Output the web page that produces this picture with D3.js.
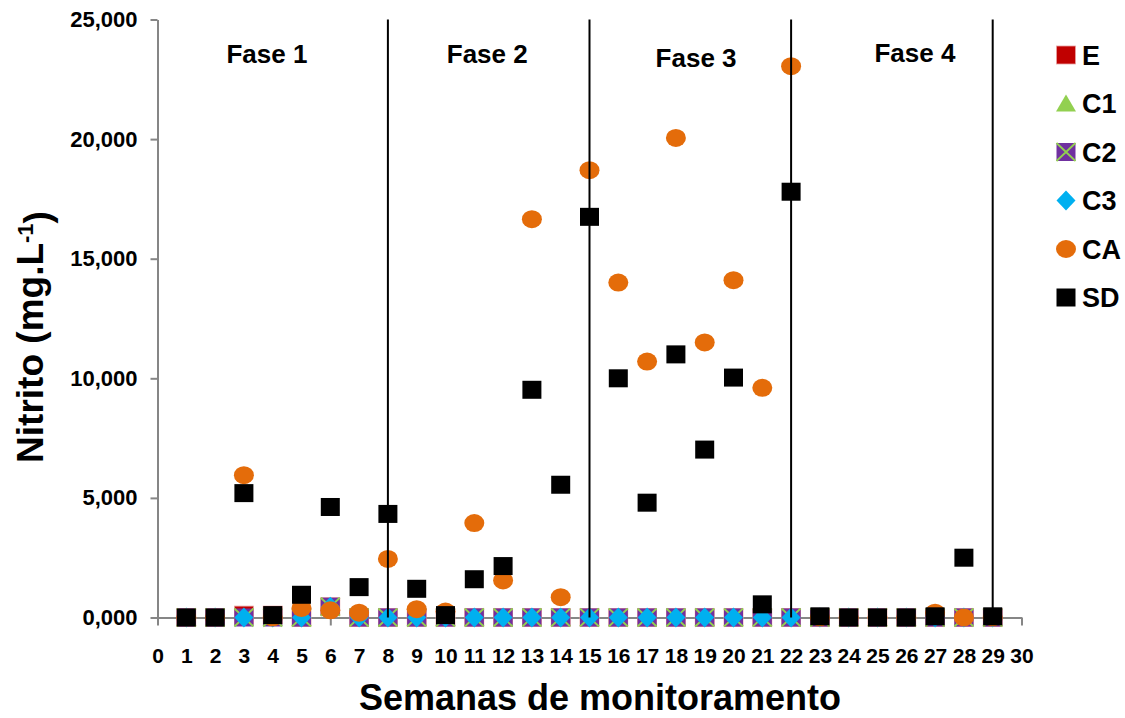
<!DOCTYPE html>
<html>
<head>
<meta charset="utf-8">
<script src="https://cdn.jsdelivr.net/npm/d3@7"></script>
<style>
  body { margin: 0; background: #fff; }
  svg { display: block; font-family: "Liberation Sans", Arial, sans-serif; font-weight: bold; }
</style>
</head>
<body>
<svg id="chart"></svg>
<script>
// semanas de monitoramento
const weeks = [1,2,3,4,5,6,7,8,9,10,11,12,13,14,15,16,17,18,19,20,21,22,23,24,25,26,27,28,29];

// nitrito (mg/L) por tratamento
const E  = [0,0,0.1,0.1,0,0.45,0,0,0,0,0,0,0,0,0,0,0,0,0,0,0,0,0,0,0,0,0,0,0];
const C1 = [0,0,0,0,0,0.45,0,0,0,0,0,0,0,0,0,0,0,0,0,0,0,0,0,0,0,0,0,0,0];
const C2 = [0,0,0,0,0,0.45,0,0,0,0,0,0,0,0,0,0,0,0,0,0,0,0,0,0,0,0,0,0,0];
const C3 = [0,0,0,0,0,0.45,0,0,0,0,0,0,0,0,0,0,0,0,0,0,0,0,0,0,0,0,0,0,0];
const CA = [0,0,5.95,0,0.4,0.3,0.2,2.45,0.35,0.25,3.95,1.55,16.65,0.85,18.7,14.0,10.7,20.05,11.5,14.1,9.6,23.05,0,0,0,0,0.2,0,0];
const SD = [0,0,5.2,0.1,0.95,4.62,1.27,4.33,1.2,0.1,1.6,2.15,9.52,5.55,16.75,10.0,4.8,11.0,7.02,10.03,0.55,17.8,0.05,0,0,0,0.05,2.5,0.05];

const seriesNames = ["E", "C1", "C2", "C3", "CA", "SD"];
const seriesValues = [E, C1, C2, C3, CA, SD];

// fases
const phaseEnds = [8, 15, 22, 29];
const phaseLabels = ["Fase 1", "Fase 2", "Fase 3", "Fase 4"];

const xTicks = d3.range(0, 31);
const yTicks = [0, 5, 10, 15, 20, 25];

// layout
const W = 1125, H = 718;
const phaseLabelAt = [[3.8, 63], [11.45, 63], [18.7, 67], [26.3, 62]];

const svg = d3.select("#chart").attr("width", W).attr("height", H);

const x = d3.scaleLinear().domain([0, 30]).range([157.5, 1021.5]);
const y = d3.scaleLinear().domain([0, 25]).range([617.5, 19.5]);

const ptBR = d3.formatLocale({ decimal: ",", thousands: ".", grouping: [3], currency: ["", ""] });
const fmt = ptBR.format(".3f");

const axisColor = "#868686";

// eixo x
const gx = svg.append("g").attr("transform", `translate(0,${y(0)})`)
  .call(d3.axisBottom(x).tickValues(xTicks).tickSize(8).tickPadding(23).tickSizeOuter(0));
gx.select(".domain").attr("stroke", axisColor).attr("stroke-width", 2);
gx.selectAll(".tick line").attr("stroke", axisColor).attr("stroke-width", 2);
gx.selectAll(".tick text").attr("fill", "#000").style("font-size", "21px").style("font-weight", "bold").attr("font-family", null);

// eixo y
const gy = svg.append("g").attr("transform", `translate(${x(0)},0)`)
  .call(d3.axisLeft(y).tickValues(yTicks).tickFormat(fmt).tickSize(7).tickPadding(13).tickSizeOuter(0));
gy.select(".domain").attr("stroke", axisColor).attr("stroke-width", 2);
gy.selectAll(".tick line").attr("stroke", axisColor).attr("stroke-width", 2);
gy.selectAll(".tick text").attr("fill", "#000").style("font-size", "22px").style("font-weight", "bold").attr("font-family", null);

// marcadores
function drawMarker(g, name) {
  if (name === "E") {
    g.append("rect").attr("x", -9.5).attr("y", -9).attr("width", 19).attr("height", 18)
      .attr("fill", "#C00000").attr("stroke", "#e8a0a0").attr("stroke-width", 0.8);
  } else if (name === "C1") {
    g.append("path").attr("d", "M0,-9L10,8L-10,8Z").attr("fill", "#92D050");
  } else if (name === "C2") {
    g.append("rect").attr("x", -9.5).attr("y", -9).attr("width", 19).attr("height", 18).attr("fill", "#7030A0");
    g.append("path").attr("d", "M-9.5,-9L9.5,9M9.5,-9L-9.5,9").attr("stroke", "#92D050").attr("stroke-width", 1.8);
  } else if (name === "C3") {
    g.append("path").attr("d", "M0,-10L9.5,0L0,10L-9.5,0Z").attr("fill", "#00B0F0");
  } else if (name === "CA") {
    g.append("ellipse").attr("rx", 10).attr("ry", 9).attr("fill", "#E46C0A");
  } else {
    g.append("rect").attr("x", -9.5).attr("y", -9).attr("width", 19).attr("height", 18).attr("fill", "#000");
  }
}

seriesNames.forEach((name, i) => {
  const data = weeks.map((w, j) => ({ w: w, v: seriesValues[i][j] }));
  svg.append("g").selectAll("g").data(data).join("g")
    .attr("transform", d => `translate(${x(d.w)},${y(d.v)})`)
    .each(function () { drawMarker(d3.select(this), name); });
});

// linhas das fases
svg.append("g").selectAll("line").data(phaseEnds).join("line")
  .attr("x1", d => x(d)).attr("x2", d => x(d))
  .attr("y1", y(25)).attr("y2", y(0))
  .attr("stroke", "#000").attr("stroke-width", 2);

svg.append("g").selectAll("text").data(phaseLabels).join("text")
  .attr("x", (d, i) => x(phaseLabelAt[i][0]))
  .attr("y", (d, i) => phaseLabelAt[i][1])
  .attr("text-anchor", "middle")
  .style("font-size", "26px")
  .text(d => d);

// legenda
const leg = svg.append("g").selectAll("g").data(seriesNames).join("g")
  .attr("transform", (d, i) => `translate(1066,${55 + i * 48.5})`);
leg.each(function (d) { drawMarker(d3.select(this), d); });
leg.append("text").attr("x", 16).attr("y", 9.5).style("font-size", "27px").text(d => d);

// títulos dos eixos
svg.append("text").attr("x", 600).attr("y", 710).attr("text-anchor", "middle")
  .style("font-size", "36px").text("Semanas de monitoramento");

const yt = svg.append("text").attr("transform", "translate(43,337) rotate(-90)")
  .attr("text-anchor", "middle").style("font-size", "37px");
yt.append("tspan").text("Nitrito (mg.L");
yt.append("tspan").attr("dy", "-0.45em").style("font-size", "22px").text("-1");
yt.append("tspan").attr("dy", "0.45em").text(")");
</script>
</body>
</html>
